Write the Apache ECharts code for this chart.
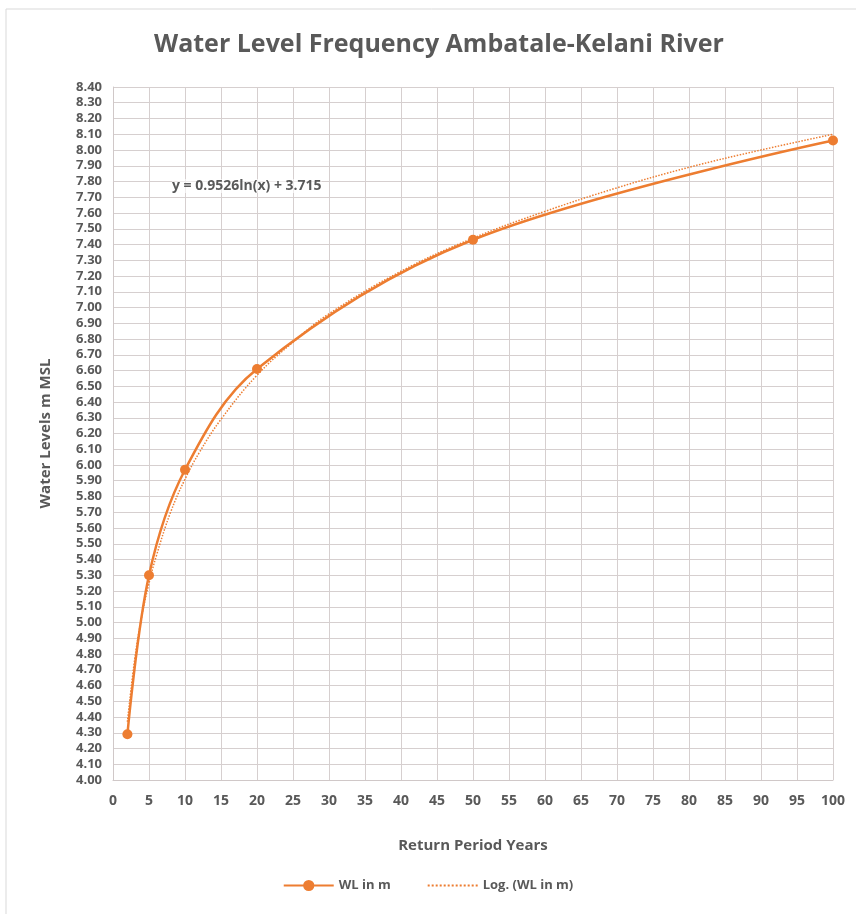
<!DOCTYPE html>
<html>
<head>
<meta charset="utf-8">
<script src="https://cdn.jsdelivr.net/npm/echarts@6/dist/echarts.min.js"></script>
<style>
  html, body { margin: 0; padding: 0; background: #fff; }
  #chart { width: 856px; height: 914px; }
</style>
</head>
<body>
<div id="chart"></div>
<script>
// return period (years) and water level (m MSL)
const returnPeriods = [2, 5, 10, 20, 50, 100];
const waterLevels = [4.29, 5.30, 5.97, 6.61, 7.43, 8.06];

// log trendline
const trendX = [2, 3, 4, 5, 6, 8, 10, 12, 15, 20, 25, 30, 40, 50, 60, 70, 80, 90, 100];
const trendY = [4.37, 4.76, 5.04, 5.25, 5.42, 5.70, 5.91, 6.08, 6.29, 6.57, 6.78, 6.96, 7.23, 7.44, 7.61, 7.76, 7.89, 8.00, 8.10];

const equation = 'y = 0.9526ln(x) + 3.715';

const orange = '#ED7D31';
const textGray = '#595959';
const font = 'Open Sans';

const chart = echarts.init(document.getElementById('chart'));

const option = {
    backgroundColor: '#fff',
    textStyle: { fontFamily: font },
    title: {
        text: 'Water Level Frequency Ambatale-Kelani River',
        left: 149,
        top: 27,
        textStyle: { fontSize: 25, fontWeight: 'bold', color: textGray, fontFamily: font }
    },
    graphic: [
        {
            type: 'rect',
            shape: { x: 6, y: 9, width: 852, height: 910 },
            style: { fill: 'none', stroke: '#d9d9d9', lineWidth: 1 }
        },
        {
            type: 'text',
            left: 172,
            top: 179,
            z: 10,
            style: {
                text: equation, fontSize: 14, fontWeight: 'bold', fill: textGray, fontFamily: font,
                backgroundColor: 'rgba(255,255,255,0.6)'
            }
        }
    ],
    grid: { left: 113, right: 23, top: 87, bottom: 134 },
    legend: {
        bottom: 17,
        itemGap: 36,
        itemWidth: 50,
        textStyle: { fontSize: 13, fontWeight: 'bold', color: textGray },
        data: [
            { name: 'WL in m' },
            { name: 'Log. (WL in m)', itemStyle: { opacity: 0 } }
        ]
    },
    xAxis: {
        type: 'value',
        min: 0,
        max: 100,
        interval: 5,
        name: 'Return Period Years',
        nameLocation: 'middle',
        nameGap: 58,
        nameTextStyle: { fontSize: 15, fontWeight: 'bold', color: textGray },
        axisLine: { show: true, lineStyle: { color: '#d0c8c8' } },
        axisTick: { show: false },
        axisLabel: { fontSize: 14, fontWeight: 'bold', color: textGray, margin: 14 },
        splitLine: { show: true, lineStyle: { color: '#d6cfcf', width: 1 } }
    },
    yAxis: {
        type: 'value',
        min: 4,
        max: 8.4,
        interval: 0.1,
        name: 'Water Levels m MSL',
        nameLocation: 'middle',
        nameGap: 60,
        nameTextStyle: { fontSize: 15, fontWeight: 'bold', color: textGray },
        axisLine: { show: true, lineStyle: { color: '#d0c8c8' } },
        axisTick: { show: false },
        axisLabel: {
            fontSize: 13, fontWeight: 'bold', color: textGray, margin: 11,
            formatter: v => v.toFixed(2)
        },
        splitLine: { show: true, lineStyle: { color: '#d6cfcf', width: 1 } }
    },
    series: [
        {
            name: 'Log. (WL in m)',
            type: 'line',
            data: trendX.map((x, i) => [x, trendY[i]]),
            smooth: 0.4,
            showSymbol: false,
            symbol: 'none',
            lineStyle: { color: orange, width: 1.5, type: 'dotted' },
            itemStyle: { color: orange },
            z: 3
        },
        {
            name: 'WL in m',
            type: 'line',
            data: returnPeriods.map((x, i) => [x, waterLevels[i]]),
            smooth: 0.35,
            symbol: 'circle',
            symbolSize: 10,
            lineStyle: { color: orange, width: 2.5 },
            itemStyle: { color: orange },
            z: 4
        }
    ]
};

chart.setOption(option);
</script>
</body>
</html>
